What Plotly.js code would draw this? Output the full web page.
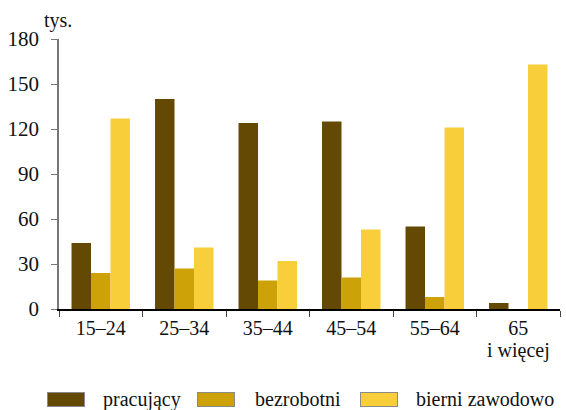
<!DOCTYPE html>
<html>
<head>
<meta charset="utf-8">
<script src="https://cdn.plot.ly/plotly-3.0.1.min.js"></script>
<style>
  body { margin: 0; background: #fff; }
  #wrap { position: relative; width: 566px; height: 410px; }
  #chart { position: absolute; left: 0; top: 0; width: 566px; height: 410px; }
  .lbl { position: absolute; font-family: "Liberation Serif"; font-size: 20px; line-height: 20px; color: #111; white-space: nowrap; z-index: 2; }
  .sw { position: absolute; box-sizing: border-box; border: 1px solid #8a8a8a; z-index: 2; }
</style>
</head>
<body>
<div id="wrap">
  <div id="legend"></div>
  <div class="lbl" style="left:44px;top:10px">tys.</div>
  <div id="chart"></div>
</div>
<script>
const ageGroups = ["15–24", "25–34", "35–44", "45–54", "55–64", "65 i więcej"];
const tickLabels = ["15–24", "25–34", "35–44", "45–54", "55–64", "65"];
const seriesNames = ["pracujący", "bezrobotni", "bierni zawodowo"];
const pracujacy = [44, 140, 124, 125, 55, 4];
const bezrobotni = [24, 27, 19, 21, 8, 0];
const bierni = [127, 41, 32, 53, 121, 163];
const colors = ["#634904", "#cca208", "#f8cf3b"];

const seriesValues = [pracujacy, bezrobotni, bierni];

const traces = seriesValues.map((vals, i) => ({
  type: "bar",
  name: seriesNames[i],
  x: ageGroups,
  y: vals,
  marker: { color: colors[i], line: { width: 0 } },
  showlegend: false,
  hoverinfo: "skip"
}));

// legend as plain html, so the serif face gets used on the page
const legendSwatchX = [47, 197, 360];
const legendTextX = [103, 255, 416];
const legendBox = document.getElementById("legend");
seriesNames.forEach((name, i) => {
  const sw = document.createElement("div");
  sw.className = "sw";
  sw.style.cssText = `left:${legendSwatchX[i]}px;top:392px;width:38px;height:15px;background:${colors[i]}`;
  legendBox.appendChild(sw);
  const t = document.createElement("div");
  t.className = "lbl";
  t.style.cssText = `left:${legendTextX[i]}px;top:389px`;
  t.textContent = name;
  legendBox.appendChild(t);
});

// plot area in pixels: left 59, right 560, top 39, bottom 309
const py = (y) => (309 - y) / 270;

const fontFamily = "Liberation Serif";

const layout = {
  width: 566,
  height: 410,
  margin: { l: 59, r: 6, t: 39, b: 101 },
  paper_bgcolor: "rgba(0,0,0,0)",
  plot_bgcolor: "rgba(0,0,0,0)",
  barmode: "group",
  bargap: 0.3,
  bargroupgap: 0,
  xaxis: {
    type: "category",
    tickmode: "array",
    tickvals: ageGroups,
    ticktext: tickLabels,
    showline: true,
    linecolor: "#000",
    linewidth: 1.5,
    ticks: "outside",
    tickson: "boundaries",
    ticklen: 6,
    tickcolor: "#444",
    showgrid: false,
    tickfont: { family: fontFamily, size: 20, color: "#111" }
  },
  yaxis: {
    range: [0, 180],
    dtick: 30,
    showline: true,
    linecolor: "#777",
    linewidth: 1.5,
    ticks: "outside",
    ticklen: 6,
    tickcolor: "#777",
    ticklabelstandoff: 8,
    showgrid: false,
    zeroline: false,
    tickfont: { family: fontFamily, size: 21, color: "#111" }
  },
  annotations: [{
    // second line of the last category label
    xref: "x", yref: "paper",
    x: ageGroups[ageGroups.length - 1], y: py(351),
    xanchor: "center", yanchor: "middle",
    text: "i więcej", showarrow: false,
    font: { family: fontFamily, size: 20, color: "#111" }
  }]
};

const draw = () => Plotly.newPlot("chart", traces, layout, { displayModeBar: false });

draw();
if (document.fonts && document.fonts.ready) {
  document.fonts.ready.then(draw);
}
</script>
</body>
</html>
